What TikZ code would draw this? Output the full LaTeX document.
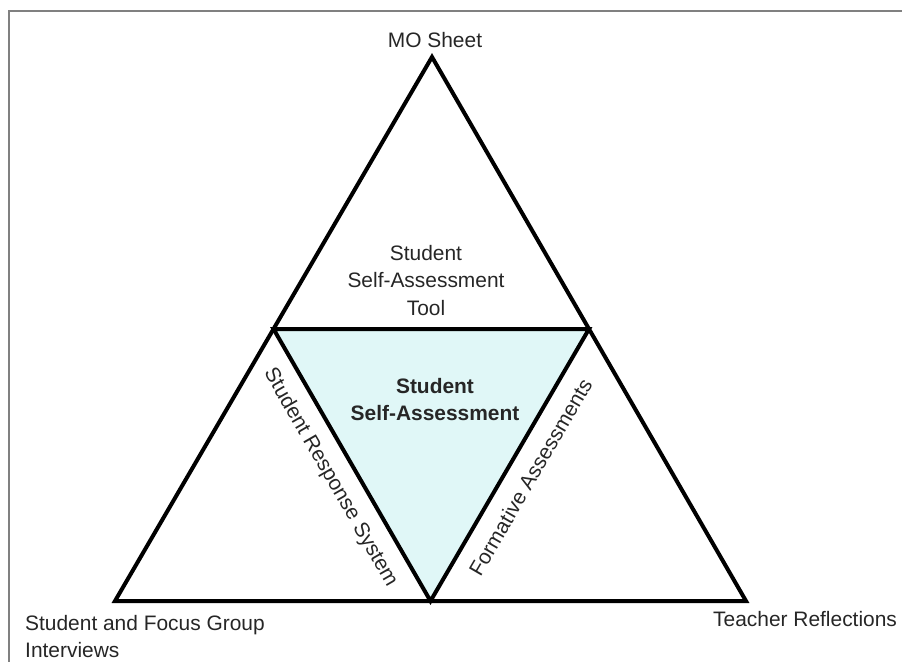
\documentclass[tikz,border=0pt]{standalone}
\usepackage{fontspec}
\setmainfont{Liberation Sans}
\usetikzlibrary{calc, positioning}
\definecolor{paleaqua}{RGB}{224,247,247}

\begin{document}
\begin{tikzpicture}[
    x=1bp, y=-1bp,
    side/.style={draw=black, line width=4bp, line join=miter},
    frame/.style={draw=black!50, line width=2bp},
    txt/.style={text=black!85, font=\fontsize{21}{27.5}\selectfont, inner sep=0pt, align=center},
    core/.style={txt, font=\fontsize{21}{27.5}\selectfont\bfseries}
]
\useasboundingbox (0,0) rectangle (902,662);
\draw[frame] (8.5,662) -- (8.5,11.5) -- (902,11.5);

% corners of the big triangle and the midpoints of its sides
\coordinate (top) at (432,57);
\coordinate (left) at (115,601);
\coordinate (right) at (746,601);
\coordinate (midL) at ($(top)!0.5!(left)$);
\coordinate (midR) at ($(top)!0.5!(right)$);
\coordinate (midB) at ($(left)!0.5!(right)$);

\fill[paleaqua] (midL) -- (midR) -- (midB) -- cycle;
\draw[side] (top) -- (right) -- (left) -- cycle;
\draw[side] (midL) -- (midR) -- (midB) -- cycle;

\node[txt, anchor=base] (mo) at (435,48) {MO Sheet};
\node[txt, anchor=north] (tool) at (426,245) {Student\\Self-Assessment\\Tool};
\node[core, anchor=north] (self) at (435,378) {Student\\Self-Assessment};
\node[txt, anchor=north west, align=left] (interviews) at (25,615) {Student and Focus Group\\Interviews};
\node[txt, anchor=north west] (teacher) at (713,611) {Teacher Reflections};

\path (midL) -- (midB) node[txt, midway, sloped, below=15bp] (srs) {Student Response System};
\path (midB) -- (midR) node[txt, midway, sloped, below=16bp] (formative) {Formative Assessments};

\end{tikzpicture}
\end{document}
